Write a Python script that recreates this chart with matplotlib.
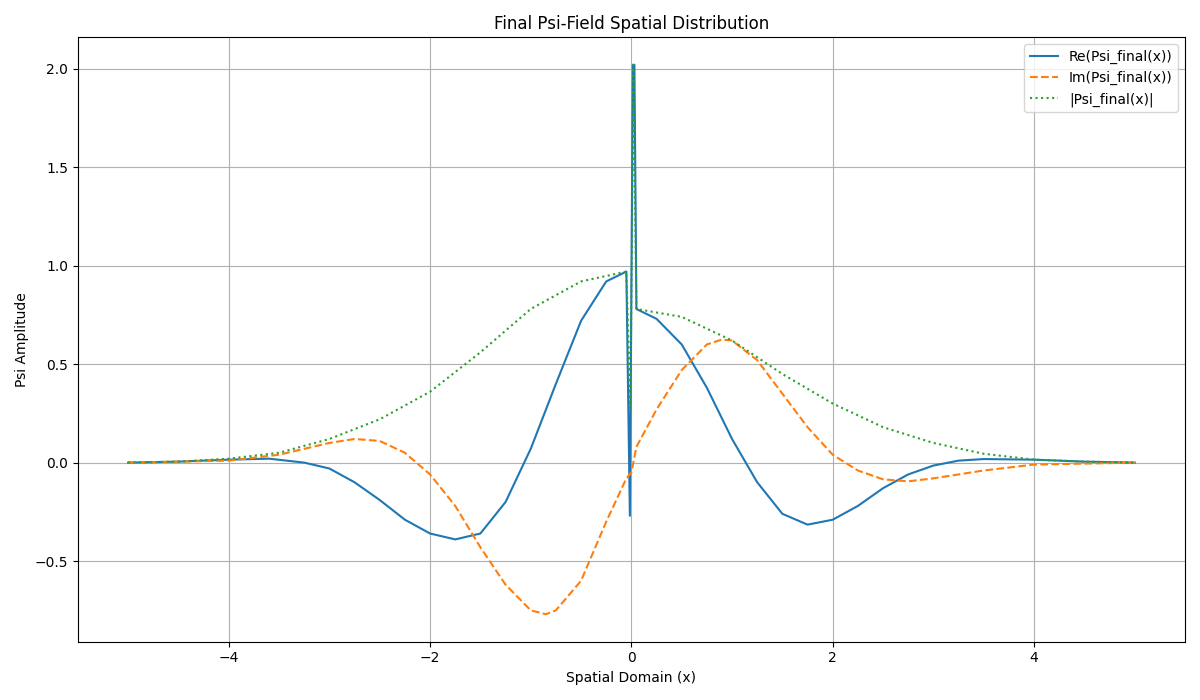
import numpy as np
import matplotlib.pyplot as plt

x_re = [-5, -4.5, -4, -3.6, -3.25, -3, -2.75, -2.5, -2.25, -2, -1.75, -1.5, -1.25, -1,
        -0.75, -0.5, -0.25, -0.05, -0.015, 0.015, 0.03, 0.05, 0.25, 0.5, 0.75, 1.0, 1.25,
        1.5, 1.75, 2.0, 2.25, 2.5, 2.75, 3.0, 3.25, 3.5, 4, 4.5, 5]
re_vals = [0, 0.005, 0.015, 0.02, 0.0, -0.03, -0.1, -0.19, -0.29, -0.36, -0.39, -0.36, -0.2, 0.07,
           0.4, 0.72, 0.92, 0.97, -0.27, 2.02, 2.02, 0.78, 0.73, 0.6, 0.38, 0.12, -0.1,
           -0.26, -0.315, -0.29, -0.22, -0.13, -0.06, -0.015, 0.01, 0.018, 0.015, 0.005, 0]

x_im = [-5, -4, -3.5, -3, -2.75, -2.5, -2.25, -2, -1.75, -1.5, -1.25, -1, -0.85, -0.75, -0.5,
        -0.25, -0.05, 0, 0.05, 0.25, 0.5, 0.75, 0.9, 1.0, 1.25, 1.5, 1.75, 2.0, 2.25, 2.5,
        2.75, 3, 3.5, 4, 5]
im_vals = [0, 0.01, 0.04, 0.1, 0.12, 0.11, 0.05, -0.06, -0.22, -0.43, -0.62, -0.75, -0.77, -0.75, -0.6,
           -0.3, -0.08, -0.05, 0.08, 0.27, 0.47, 0.6, 0.625, 0.62, 0.52, 0.35, 0.18, 0.04, -0.04, -0.085,
           -0.095, -0.08, -0.04, -0.01, 0]

x_abs = [-5, -4.5, -4, -3.5, -3, -2.5, -2, -1.5, -1, -0.5, -0.05, -0.01, 0.02, 0.05, 0.5, 1,
         1.5, 2, 2.5, 3, 3.5, 4, 4.5, 5]
abs_vals = [0, 0.005, 0.02, 0.05, 0.12, 0.22, 0.36, 0.56, 0.78, 0.92, 0.97, 0.28, 2.02, 0.78, 0.74, 0.62,
            0.45, 0.3, 0.18, 0.1, 0.045, 0.015, 0.005, 0]

plt.figure(figsize=(12, 7))
plt.plot(x_re, re_vals, label='Re(Psi_final(x))')
plt.plot(x_im, im_vals, '--', label='Im(Psi_final(x))')
plt.plot(x_abs, abs_vals, ':', label='|Psi_final(x)|')
plt.title('Final Psi-Field Spatial Distribution')
plt.xlabel('Spatial Domain (x)')
plt.ylabel('Psi Amplitude')
plt.legend(loc='upper right')
plt.grid(True)
plt.tight_layout()
plt.savefig('out.png', dpi=100)
